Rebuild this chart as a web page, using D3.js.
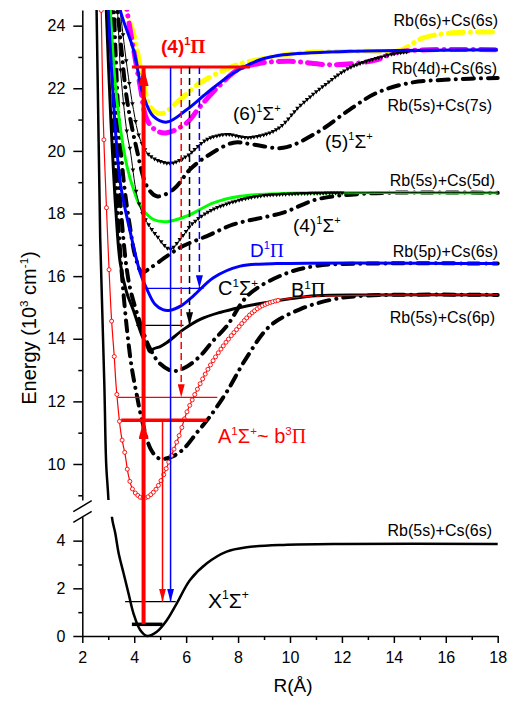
<!DOCTYPE html>
<html>
<head>
<meta charset="utf-8">
<script src="https://cdn.jsdelivr.net/npm/d3@7"></script>
<style>
  body { margin: 0; background: #fff; }
  svg { display: block; }
  text { font-family: "Liberation Sans", Arial, sans-serif; }
</style>
</head>
<body>
<svg id="chart" width="511" height="703"></svg>
<script>
// potential curves, [R (Å), E (10^3 cm^-1)]
const xState = [[2.52,25],[2.55,24.5],[2.69,17.2],[2.85,12.5],[2.92,10],[3.01,8.8],[3.14,5.0],[3.27,4.31],[3.4,3.47],[3.59,2.63],[3.78,1.79],[3.97,0.95],[4.23,0.25],[4.49,0],[4.87,0.18],[5.26,0.67],[5.64,1.37],[6.15,2.35],[6.8,3.05],[7.56,3.54],[8.33,3.72],[9.74,3.82],[12,3.86],[18,3.86]];
const aState = [[2.7,25],[2.73,24.5],[2.8,21.2],[2.92,18.4],[3.12,14.7],[3.23,13.44],[3.31,12.42],[3.5,10.92],[3.65,10.3],[3.78,9.63],[3.97,9.15],[4.36,8.9],[4.74,9.1],[5.0,9.42],[5.38,10.16],[5.77,11.0],[6.0,11.6],[6.5,12.5],[7.0,13.25],[7.5,13.85],[8.0,14.35],[8.5,14.8],[9.0,15.08],[10,15.3],[12,15.38],[18,15.4]];
const aDashDot = [[3.15,25],[3.25,20],[3.4,17.5],[3.55,15.8],[3.72,14.3],[3.9,13.1],[4.1,12.2],[4.3,11.4],[4.62,10.5],[4.9,10.2],[5.13,10.16],[5.5,10.25],[5.9,10.48],[6.41,11.0],[6.9,11.5],[7.56,12.3],[8.33,13.4],[9.23,14.41],[10.38,14.94],[11.67,15.26],[13,15.38],[18,15.4]];
const bState = [[2.9,25],[3.1,21],[3.3,18],[3.46,16.43],[3.7,15.5],[3.97,14.9],[4.3,14.1],[4.5,13.75],[4.6,13.58],[4.75,13.68],[5.0,13.75],[5.26,13.88],[5.9,14.3],[6.54,14.62],[7.3,14.84],[8.08,15.0],[9.1,15.16],[11,15.37],[13,15.4],[18,15.4]];
const cState = [[3.1,25],[3.3,21],[3.5,18.0],[3.7,16.3],[3.85,15.58],[4.23,14.5],[4.6,13.7],[5.0,13.2],[5.5,12.97],[6.0,13.1],[6.54,13.45],[7.0,13.9],[7.56,14.4],[8.4,15.4],[9.74,16.05],[11.03,16.33],[13,16.4],[18,16.4]];
const dState = [[2.96,25],[3.0,24.5],[3.2,21.6],[3.46,19.0],[3.85,17.4],[4.23,16.11],[4.49,15.58],[4.8,15.1],[5.1,14.93],[5.38,14.91],[5.8,15.05],[6.28,15.37],[7.05,15.95],[8.08,16.32],[9.5,16.4],[18,16.4]];
const sigma4 = [[3.2,25],[3.4,21],[3.6,19],[3.85,17.5],[4.05,16.6],[4.3,16.12],[4.6,16.25],[5.26,16.64],[5.9,16.97],[6.8,17.28],[7.82,17.65],[9.74,18.03],[11.03,18.45],[13,18.64],[18,18.66]];
const triState = [[3.25,25],[3.35,24.5],[3.46,22.7],[3.72,20.58],[3.85,20.0],[4.1,18.6],[4.36,17.92],[4.87,17.28],[5.38,16.86],[5.77,17.18],[6.28,17.7],[7.05,18.13],[8.46,18.5],[10,18.62],[18,18.66]];
const greenState = [[3.06,25],[3.08,24.5],[3.33,21.64],[3.72,19.51],[4.0,18.7],[4.23,18.24],[4.74,17.81],[5.26,17.74],[6.03,17.92],[7.05,18.34],[8.08,18.55],[9.74,18.64],[18,18.66]];
const sigma5 = [[3.3,25],[3.5,23.3],[3.72,21.64],[4.1,20.04],[4.49,18.87],[4.87,18.55],[5.51,18.77],[6.15,19.41],[6.8,19.83],[7.82,20.26],[8.6,20.2],[9.74,20.1],[11.03,20.58],[12.3,21.32],[13.33,21.85],[14.6,22.17],[16.15,22.28],[18,22.33]];
const sigma6 = [[3.35,25],[3.45,24.5],[3.72,22.7],[3.97,21.32],[4.23,20.36],[4.62,19.83],[5.38,19.6],[6.03,19.83],[6.8,20.36],[7.56,20.52],[8.4,20.42],[9.49,20.68],[10.38,21.43],[11.28,22.06],[12.3,22.65],[13.33,22.95],[14.23,23.13],[16,23.2],[18,23.2]];
const magentaState = [[3.65,25],[3.72,24.5],[3.91,23.55],[4.23,22.06],[4.49,21.0],[4.85,20.65],[5.26,20.58],[6.03,20.9],[6.54,21.42],[7.3,22.1],[8.0,22.6],[8.85,22.8],[10,22.86],[11.67,22.75],[13.33,22.91],[14,23.13],[15,23.22],[18,23.23]];
const pi4 = [[3.4,25],[3.46,24.5],[3.97,23.23],[4.36,21.74],[4.74,21.1],[5.26,20.92],[6.03,21.32],[6.8,21.85],[7.82,22.49],[8.85,22.91],[9.74,23.07],[12.3,23.18],[18,23.23]];
const yellowState = [[3.65,25],[3.72,24.4],[3.97,23.76],[4.36,22.17],[4.6,21.42],[4.87,21.22],[5.13,21.21],[5.77,21.64],[6.54,22.17],[7.8,22.7],[8.46,22.86],[10.4,23.13],[12.95,23.18],[14.2,23.2],[15.1,23.6],[16.15,23.76],[18,23.8]];

// horizontal levels [E, R from, R to]
const levels = [[22.68,3.91,8.46],[15.61,4.36,6.67],[14.43,4.08,5.9],[12.13,3.37,7.2],[11.4,3.5,6.8],[1.44,3.65,5.6],[0.49,3.91,5.09]];
// vertical transitions [R, E from, E to]
const pumps = [[4.36,0.49,11.4],[4.36,11.4,22.68]];
const emissions = [[5.4,22.68,1.44],[5.09,11.4,1.44]];
const cascades = [[5.81,22.68,12.13],[6.13,22.68,14.43],[6.51,22.68,15.61]];

const xTicks = [2,4,6,8,10,12,14,16,18];
const yTicksUp = [10,12,14,16,18,20,22,24];
const yTicksLo = [0,2,4];

const RED = '#ff0000', BLUE = '#0000ff', BLACK = '#000000';

const svg = d3.select('#chart');
svg.append('rect').attr('width', 511).attr('height', 703).attr('fill', '#fff');

const x = d3.scaleLinear().domain([2, 18]).range([82.3, 497.7]);
const yUp = d3.scaleLinear().domain([8.85, 24.5]).range([500, 10]);
const yLo = d3.scaleLinear().domain([0, 5]).range([636, 516.8]);
const yOf = (e) => e > 6.5 ? yUp(e) : yLo(e);

const defs = svg.append('defs');
defs.append('clipPath').attr('id', 'clipUp').append('rect')
  .attr('x', 82.3).attr('y', 10).attr('width', 430).attr('height', 490);
defs.append('clipPath').attr('id', 'clipLo').append('rect')
  .attr('x', 82.3).attr('y', 516.8).attr('width', 430).attr('height', 124);

function arrowMarker(id, color, len, wid) {
  defs.append('marker').attr('id', id)
    .attr('markerUnits', 'userSpaceOnUse')
    .attr('viewBox', `0 0 ${len} ${wid}`)
    .attr('markerWidth', len).attr('markerHeight', wid)
    .attr('refX', len).attr('refY', wid / 2)
    .attr('orient', 'auto')
    .append('path').attr('d', `M0,0 L${len},${wid / 2} L0,${wid} Z`).attr('fill', color);
}
arrowMarker('arBig', RED, 19, 10);
arrowMarker('arRed', RED, 13, 7);
arrowMarker('arBlue', BLUE, 13, 7);
arrowMarker('arBlack', BLACK, 13, 7);

// curve styles; markTo = last R that gets a symbol
const curves = [
  { data: aDashDot, color: BLACK, w: 4, dash: '11,7,0.1,7' },
  { data: cState, color: BLACK, w: 4, dash: '11,7,0.1,7' },
  { data: sigma4, color: BLACK, w: 4, dash: '11,7,0.1,7' },
  { data: sigma5, color: BLACK, w: 4, dash: '11,7,0.1,7' },
  { data: yellowState, color: '#ffff00', w: 5, dash: '15,7,0.1,7' },
  { data: magentaState, color: '#ff00ff', w: 5, dash: '15,7,0.1,7' },
  { data: bState, color: BLACK, w: 3 },
  { data: greenState, color: '#00ff00', w: 3 },
  { data: triState, color: BLACK, w: 1, mark: 'tri', step: 0.12, markTo: 12 },
  { data: sigma6, color: BLACK, w: 1, mark: 'tri', step: 0.12, markTo: 14.5 },
  { data: dState, color: BLUE, w: 3 },
  { data: pi4, color: BLUE, w: 3 },
  { data: aState, color: RED, w: 1.2, mark: 'circ', step: 0.1, markTo: 9.6 },
  { data: xState, color: BLACK, w: 2.5 }
];

const panels = [
  { y: yUp, clip: 'url(#clipUp)' },
  { y: yLo, clip: 'url(#clipLo)' }
];

panels.forEach((p) => {
  const g = svg.append('g').attr('clip-path', p.clip);
  const line = d3.line().x(d => x(d[0])).y(d => p.y(d[1])).curve(d3.curveCatmullRom.alpha(0.5));
  curves.forEach((c) => {
    const path = g.append('path')
      .attr('d', line(c.data))
      .attr('fill', 'none')
      .attr('stroke', c.color)
      .attr('stroke-width', c.w)
      .attr('stroke-linecap', c.dash ? 'round' : 'butt')
      .attr('stroke-dasharray', c.dash || null);
    if (c.mark && p.y === yUp) {
      // symbols every `step` Å along the drawn curve
      const node = path.node();
      const L = node.getTotalLength();
      let nextR = c.data[1][0];
      const pts = [];
      for (let s = 0; s <= L; s += 0.5) {
        const pt = node.getPointAtLength(s);
        if (pt.x >= x(nextR)) {
          pts.push(pt);
          nextR += c.step;
          if (nextR > c.markTo) break;
        }
      }
      if (c.mark === 'circ') {
        g.selectAll(null).data(pts).join('circle')
          .attr('cx', d => d.x).attr('cy', d => d.y).attr('r', 2)
          .attr('fill', '#fff').attr('stroke', c.color).attr('stroke-width', 0.9);
      } else {
        g.selectAll(null).data(pts).join('path')
          .attr('d', d => `M${d.x - 2.3},${d.y - 1.6} L${d.x + 2.3},${d.y - 1.6} L${d.x},${d.y + 2.4} Z`)
          .attr('fill', c.color);
      }
    }
  });
});

// levels
const levelStyle = [
  { c: RED, w: 3 }, { c: BLUE, w: 1.3 }, { c: BLACK, w: 1.3 }, { c: RED, w: 1.3 },
  { c: RED, w: 3.5 }, { c: BLACK, w: 1.3 }, { c: BLACK, w: 3.5 }
];
levels.forEach((l, i) => {
  svg.append('line')
    .attr('x1', x(l[1])).attr('x2', x(l[2]))
    .attr('y1', yOf(l[0])).attr('y2', yOf(l[0]))
    .attr('stroke', levelStyle[i].c).attr('stroke-width', levelStyle[i].w);
});

function vArrow(t, color, w, marker, dash) {
  svg.append('line')
    .attr('x1', x(t[0])).attr('x2', x(t[0]))
    .attr('y1', yOf(t[1])).attr('y2', yOf(t[2]))
    .attr('stroke', color).attr('stroke-width', w)
    .attr('stroke-dasharray', dash || null)
    .attr('marker-end', `url(#${marker})`);
}
pumps.forEach(t => vArrow(t, RED, 4, 'arBig'));
vArrow(emissions[0], BLUE, 1.5, 'arBlue');
vArrow(emissions[1], RED, 1.5, 'arRed');
vArrow(cascades[0], RED, 1.5, 'arRed', '7,4');
vArrow(cascades[1], BLACK, 1.5, 'arBlack', '7,4');
vArrow(cascades[2], BLUE, 1.5, 'arBlue', '7,4');

// axes
const axisStyle = (g) => {
  g.selectAll('path, line').attr('stroke', '#000').attr('stroke-width', 1.5);
  g.selectAll('text').attr('font-size', 16).attr('fill', '#000')
    .attr('font-family', '"Liberation Sans", Arial, sans-serif');
};
const oddRange = (a, b) => d3.range(a, b + 0.1, 2);

const gx = svg.append('g').attr('transform', 'translate(0,636)')
  .call(d3.axisBottom(x).tickValues(xTicks).tickFormat(d3.format('d')).tickSize(7).tickSizeOuter(0))
  .call(axisStyle);
gx.selectAll('text').attr('dy', null).attr('y', 27);
svg.append('g').attr('transform', 'translate(0,636)')
  .call(d3.axisBottom(x).tickValues(oddRange(3, 17)).tickFormat('').tickSize(4).tickSizeOuter(0))
  .call(axisStyle).select('.domain').remove();

function leftAxis(scale, major, minor) {
  svg.append('g').attr('transform', 'translate(82.3,0)')
    .call(d3.axisLeft(scale).tickValues(major).tickFormat(d3.format('d')).tickSize(9).tickPadding(8).tickSizeOuter(0))
    .call(axisStyle);
  svg.append('g').attr('transform', 'translate(82.3,0)')
    .call(d3.axisLeft(scale).tickValues(minor).tickFormat('').tickSize(4).tickSizeOuter(0))
    .call(axisStyle).select('.domain').remove();
}
leftAxis(yUp, yTicksUp, oddRange(9, 23));
leftAxis(yLo, yTicksLo, oddRange(1, 3));

// axis break marks
[[511.7, 500.7], [522.3, 511.3]].forEach(([ya, yb]) => {
  svg.append('line').attr('x1', 73.3).attr('y1', ya).attr('x2', 91.7).attr('y2', yb)
    .attr('stroke', '#000').attr('stroke-width', 1.5);
});

// labels built from pieces: n = normal, s = superscript, g = serif greek
function label(px, py, parts, opt) {
  const fs = opt.size;
  const t = svg.append('text').attr('x', px).attr('y', py)
    .attr('font-size', fs).attr('fill', opt.color || '#000')
    .attr('font-weight', opt.bold ? 'bold' : null)
    .attr('text-anchor', opt.anchor || 'start')
    .attr('transform', opt.rotate ? `rotate(-90,${px},${py})` : null);
  let up = false;
  parts.forEach(([str, kind]) => {
    const sp = t.append('tspan').text(str);
    if (kind === 's') {
      sp.attr('font-size', fs * 0.58).attr('dy', up ? 0 : -fs * 0.42);
      up = true;
    } else {
      sp.attr('dy', up ? fs * 0.42 : 0);
      up = false;
      if (kind === 'g') sp.attr('font-family', '"Liberation Serif", "Times New Roman", serif');
    }
  });
  return t;
}

label(161, 53, [['(4)', 'n'], ['1', 's'], ['\u03A0', 'g']], { size: 19, bold: true, color: RED });
label(233, 120, [['(6)', 'n'], ['1', 's'], ['\u03A3', 'n'], ['+', 's']], { size: 19 });
label(325, 148, [['(5)', 'n'], ['1', 's'], ['\u03A3', 'n'], ['+', 's']], { size: 19 });
label(293, 232, [['(4)', 'n'], ['1', 's'], ['\u03A3', 'n'], ['+', 's']], { size: 19 });
label(250, 257, [['D', 'n'], ['1', 's'], ['\u03A0', 'g']], { size: 19, color: BLUE });
label(218, 295, [['C', 'n'], ['1', 's'], ['\u03A3', 'n'], ['+', 's']], { size: 20 });
label(291, 297, [['B', 'n'], ['1', 's'], ['\u03A0', 'g']], { size: 20 });
label(218, 443, [['A', 'n'], ['1', 's'], ['\u03A3', 'n'], ['+', 's'], ['~ b', 'n'], ['3', 's'], ['\u03A0', 'g']], { size: 20, color: RED });
label(208, 608, [['X', 'n'], ['1', 's'], ['\u03A3', 'n'], ['+', 's']], { size: 21 });

const asym = [
  ['Rb(6s)+Cs(6s)', 498, 26], ['Rb(4d)+Cs(6s)', 497, 74], ['Rb(5s)+Cs(7s)', 492, 111],
  ['Rb(5s)+Cs(5d)', 495, 186], ['Rb(5p)+Cs(6s)', 498, 257], ['Rb(5s)+Cs(6p)', 495, 323],
  ['Rb(5s)+Cs(6s)', 492, 536]
];
asym.forEach(([s, px, py]) => label(px, py, [[s, 'n']], { size: 16, anchor: 'end' }));

label(36, 328, [['Energy (10', 'n'], ['3', 's'], [' cm', 'n'], ['-1', 's'], [')', 'n']], { size: 20, anchor: 'middle', rotate: true });
label(293, 692, [['R(\u00C5)', 'n']], { size: 19, anchor: 'middle' });
</script>
</body>
</html>
